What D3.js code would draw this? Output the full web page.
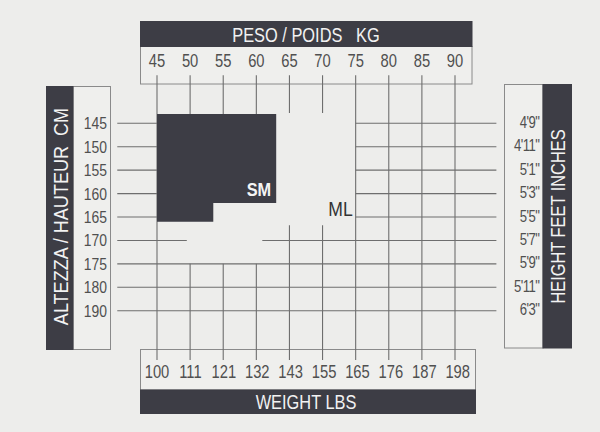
<!DOCTYPE html>
<html>
<head>
<meta charset="utf-8">
<script src="https://cdn.jsdelivr.net/npm/d3@7"></script>
<style>
  html, body { margin: 0; padding: 0; background: #ededeb; }
  svg { display: block; }
</style>
</head>
<body>
<svg id="canvas"></svg>
<script>
// chart values
const kgLabels = [45, 50, 55, 60, 65, 70, 75, 80, 85, 90];
const lbsLabels = [100, 111, 121, 132, 143, 155, 165, 176, 187, 198];
const cmLabels = [145, 150, 155, 160, 165, 170, 175, 180, 190];
const ftLabels = ["4'9\"", "4'11\"", "5'1\"", "5'3\"", "5'5\"", "5'7\"", "5'9\"", "5'11\"", "6'3\""];

// grid pieces in column / row units (column 0 = 45 kg, row 0 = 145 cm)
const vSegments = [
  [0, -2.05, 10.1],
  [1, -2.05, -0.4], [1, 6, 10.1],
  [2, -2.05, -0.4], [2, 6, 10.1],
  [3, -2.05, -0.4], [3, 6, 10.1],
  [4, -2.05, -0.44], [4, 4.35, 10.1],
  [5, -2.05, -0.44], [5, 4.35, 10.1],
  [6, -2.05, 10.1], [7, -2.05, 10.1], [8, -2.05, 10.1], [9, -2.05, 10.1]
];
const hSegments = [
  [0, -1.2, 0], [0, 6, 10.25],
  [1, -1.2, 0], [1, 6, 10.25],
  [2, -1.2, 0], [2, 6, 10.25],
  [3, -1.2, 0], [3, 6, 10.25],
  [4, -1.2, 0], [4, 6, 10.25],
  [5, -1.2, 0.9], [5, 3.18, 10.25],
  [6, -1.2, 10.25], [7, -1.2, 10.25], [8, -1.2, 10.25]
];
// SM area outline (col, row)
const smArea = [[0, -0.4], [3.6, -0.4], [3.6, 3.4], [1.7, 3.4], [1.7, 4.2], [0, 4.2]];

const width = 600;
const height = 432;
const dark = "#3d3d45";
const ink = "#505050";
const lineColor = "#6e6e6e";
const font = "'Liberation Sans', Arial, sans-serif";
const squeeze = 0.82; // narrow the glyphs like a condensed face

const svg = d3.select("#canvas")
  .attr("width", width)
  .attr("height", height)
  .attr("viewBox", [0, 0, width, height]);

const x = d3.scaleLinear().domain([0, 9]).range([157, 455]);
const y = d3.scaleLinear().domain([0, 8]).range([123.3, 310.7]);

// panels
function panel(x0, y0, x1, y1, fill) {
  svg.append("rect")
    .attr("x", x0).attr("y", y0)
    .attr("width", x1 - x0).attr("height", y1 - y0)
    .attr("fill", fill)
    .attr("stroke", fill === dark ? dark : "#8a8a8a")
    .attr("stroke-width", 1);
}
panel(140.5, 46.5, 472, 84, "#efefed");
panel(140.5, 21.5, 472, 46.5, dark);
panel(140.5, 349.5, 475.5, 390, "#efefed");
panel(140.5, 390, 475.5, 413.5, dark);
panel(73, 86.5, 110.5, 349.5, "#efefed");
panel(46.5, 86.5, 73, 349.5, dark);
panel(504.5, 84.5, 543, 348, "#efefed");
panel(543, 84.5, 571.5, 348, dark);

// grid lines
const grid = svg.append("g")
  .attr("stroke", lineColor)
  .attr("stroke-width", 1.1);

grid.selectAll(".v")
  .data(vSegments)
  .join("line")
  .attr("class", "v")
  .attr("x1", d => x(d[0])).attr("x2", d => x(d[0]))
  .attr("y1", d => y(d[1])).attr("y2", d => y(d[2]));

grid.selectAll(".h")
  .data(hSegments)
  .join("line")
  .attr("class", "h")
  .attr("y1", d => y(d[0])).attr("y2", d => y(d[0]))
  .attr("x1", d => x(d[1])).attr("x2", d => x(d[2]));

// SM block
svg.append("path")
  .attr("d", d3.line().x(d => x(d[0])).y(d => y(d[1]))(smArea) + "Z")
  .attr("fill", dark);

// squeezed text helper
function label(sel, tx, ty, rot, sx) {
  return sel
    .attr("transform", (d, i) => `translate(${tx(d, i)},${ty(d, i)}) rotate(${rot}) scale(${sx},1)`)
    .attr("font-family", font);
}

label(svg.append("text"), () => x(3.6) - 5, () => y(3.4) - 6.5, 0, 0.86)
  .attr("text-anchor", "end")
  .attr("font-weight", "bold")
  .attr("font-size", 19)
  .attr("fill", "#f4f4f4")
  .text("SM");

label(svg.append("text"), () => x(6) - 3, () => y(4) - 1.5, 0, 0.88)
  .attr("text-anchor", "end")
  .attr("font-size", 20)
  .attr("fill", "#333")
  .text("ML");

// tick labels
label(svg.append("g").selectAll("text").data(kgLabels).join("text"),
    (d, i) => x(i), () => 66.5, 0, squeeze)
  .attr("text-anchor", "middle")
  .attr("font-size", 18)
  .attr("fill", ink)
  .text(d => d);

label(svg.append("g").selectAll("text").data(lbsLabels).join("text"),
    (d, i) => x(i) + i * 0.3, () => 378, 0, squeeze)
  .attr("text-anchor", "middle")
  .attr("font-size", 18)
  .attr("fill", ink)
  .text(d => d);

label(svg.append("g").selectAll("text").data(cmLabels).join("text"),
    () => 107, (d, i) => y(i) + 6, 0, squeeze)
  .attr("text-anchor", "end")
  .attr("font-size", 17)
  .attr("fill", ink)
  .text(d => d);

label(svg.append("g").selectAll("text").data(ftLabels).join("text"),
    () => 539.5, (d, i) => y(i) + 4.5, 0, squeeze)
  .attr("text-anchor", "end")
  .attr("font-size", 16)
  .attr("letter-spacing", -0.6)
  .attr("fill", ink)
  .text(d => d);

// titles on dark bars
function title(tx, ty, rot, str, size, sx) {
  label(svg.append("text"), () => tx, () => ty, rot, sx)
    .attr("text-anchor", "middle")
    .attr("dominant-baseline", "central")
    .attr("font-size", size)
    .attr("fill", "#f2f2f2")
    .attr("xml:space", "preserve")
    .text(str);
}
title(306, 34.5, 0, "PESO / POIDS   KG", 20, squeeze);
title(306, 402, 0, "WEIGHT LBS", 20, squeeze);
title(60, 216.5, -90, "ALTEZZA / HAUTEUR  CM", 21, 0.86);
title(557.5, 216.5, -90, "HEIGHT FEET INCHES", 20, squeeze);
</script>
</body>
</html>
